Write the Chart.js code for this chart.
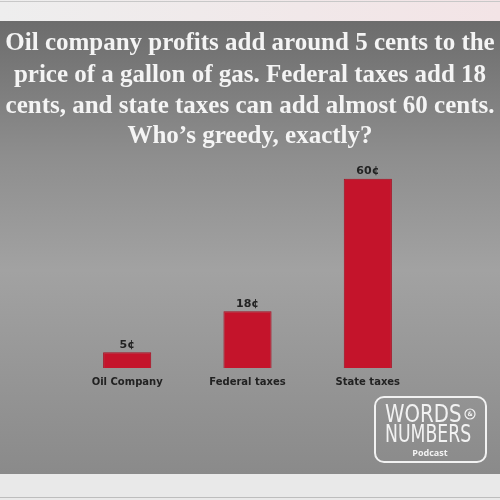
<!DOCTYPE html>
<html>
<head>
<meta charset="utf-8">
<script src="https://cdn.jsdelivr.net/npm/chart.js@4/dist/chart.umd.min.js"></script>
<style>
html,body{margin:0;padding:0;background:#8c8c8c;}
#wrap{width:500px;height:500px;}
</style>
</head>
<body>
<div id="wrap"><canvas id="c" width="500" height="500"></canvas></div>
<script>
const categories = ['Oil Company', 'Federal taxes', 'State taxes'];
const values = [5, 18, 60];
const valueLabels = ['5¢', '18¢', '60¢'];
const titleLines = [
  'Oil company profits add around 5 cents to the',
  'price of a gallon of gas. Federal taxes add 18',
  'cents, and state taxes can add almost 60 cents.',
  'Who\u2019s greedy, exactly?'
];

const bgPlugin = {
  id: 'bg',
  beforeDraw(chart) {
    const ctx = chart.ctx;
    ctx.save();
    const g = ctx.createLinearGradient(0, 20, 0, 475);
    g.addColorStop(0, '#6c6c6c');
    g.addColorStop(0.3, '#8e8e8e');
    g.addColorStop(0.55, '#a2a2a2');
    g.addColorStop(1, '#8a8a8a');
    ctx.fillStyle = g;
    ctx.fillRect(0, 0, 500, 500);
    const tg = ctx.createLinearGradient(0, 0, 500, 0);
    tg.addColorStop(0, '#eeeeee');
    tg.addColorStop(1, '#f3e4e6');
    ctx.fillStyle = tg;
    ctx.fillRect(0, 0, 500, 21);
    ctx.fillStyle = '#c8c8c8';
    ctx.fillRect(0, 1, 500, 1);
    ctx.fillStyle = '#e9e9e9';
    ctx.fillRect(0, 474, 500, 26);
    ctx.fillStyle = '#bdbdbd';
    ctx.fillRect(0, 497, 500, 1);
    // title
    ctx.fillStyle = '#f4f4f4';
    ctx.textAlign = 'center';
    ctx.textBaseline = 'middle';
    ctx.font = 'bold 25px "Liberation Serif", serif';
    const ys = [44, 76, 107, 137];
    titleLines.forEach((t, i) => ctx.fillText(t, 250, ys[i], 494));
    ctx.restore();
  }
};

const labelPlugin = {
  id: 'vlabels',
  afterDatasetsDraw(chart) {
    const ctx = chart.ctx;
    const meta = chart.getDatasetMeta(0);
    ctx.save();
    ctx.font = 'bold 11px "DejaVu Sans", sans-serif';
    ctx.fillStyle = '#222';
    ctx.textAlign = 'center';
    ctx.textBaseline = 'bottom';
    meta.data.forEach((bar, i) => {
      ctx.fillText(valueLabels[i], bar.x, bar.y - 2);
    });
    ctx.restore();
  }
};

const logoPlugin = {
  id: 'logo',
  afterDraw(chart) {
    const ctx = chart.ctx;
    ctx.save();
    ctx.strokeStyle = '#f2f2f2';
    ctx.lineWidth = 2;
    ctx.beginPath();
    ctx.roundRect(375, 397, 111, 65, 9);
    ctx.stroke();
    ctx.fillStyle = '#f2f2f2';
    ctx.textBaseline = 'middle';
    ctx.textAlign = 'left';
    ctx.font = '25px "DejaVu Sans", sans-serif';
    ctx.save();
    ctx.translate(385, 415);
    ctx.scale(0.79, 1);
    ctx.fillText('WORDS', 0, 0);
    ctx.restore();
    ctx.beginPath();
    ctx.lineWidth = 1.2;
    ctx.arc(470, 414, 5, 0, Math.PI * 2);
    ctx.stroke();
    ctx.font = 'bold 6px "DejaVu Sans", sans-serif';
    ctx.textAlign = 'center';
    ctx.fillText('&', 470, 414.5);
    ctx.textAlign = 'left';
    ctx.font = '25px "DejaVu Sans", sans-serif';
    ctx.save();
    ctx.translate(385, 435);
    ctx.scale(0.69, 1);
    ctx.fillText('NUMBERS', 0, 0);
    ctx.restore();
    ctx.font = 'bold 9px "Open Sans", "DejaVu Sans", sans-serif';
    ctx.textAlign = 'center';
    ctx.fillText('Podcast', 430, 453);
    ctx.restore();
  }
};

new Chart(document.getElementById('c'), {
  type: 'bar',
  data: {
    labels: categories,
    datasets: [{
      data: values,
      backgroundColor: '#c4142b',
      borderColor: '#a80f22',
      borderWidth: 1,
      barPercentage: 0.4,
      categoryPercentage: 1.0
    }]
  },
  options: {
    responsive: false,
    animation: false,
    layout: { padding: { left: 67, right: 72, bottom: 104, top: 166 } },
    plugins: {
      legend: { display: false },
      tooltip: { enabled: false },
      title: { display: false }
    },
    scales: {
      x: {
        grid: { display: false, drawTicks: false },
        border: { display: false },
        ticks: {
          color: '#222',
          padding: 8,
          font: { family: '"DejaVu Sans", sans-serif', size: 10, weight: 'bold' }
        }
      },
      y: {
        display: false,
        min: 0,
        max: 64
      }
    }
  },
  plugins: [bgPlugin, labelPlugin, logoPlugin]
});
</script>
</body>
</html>
